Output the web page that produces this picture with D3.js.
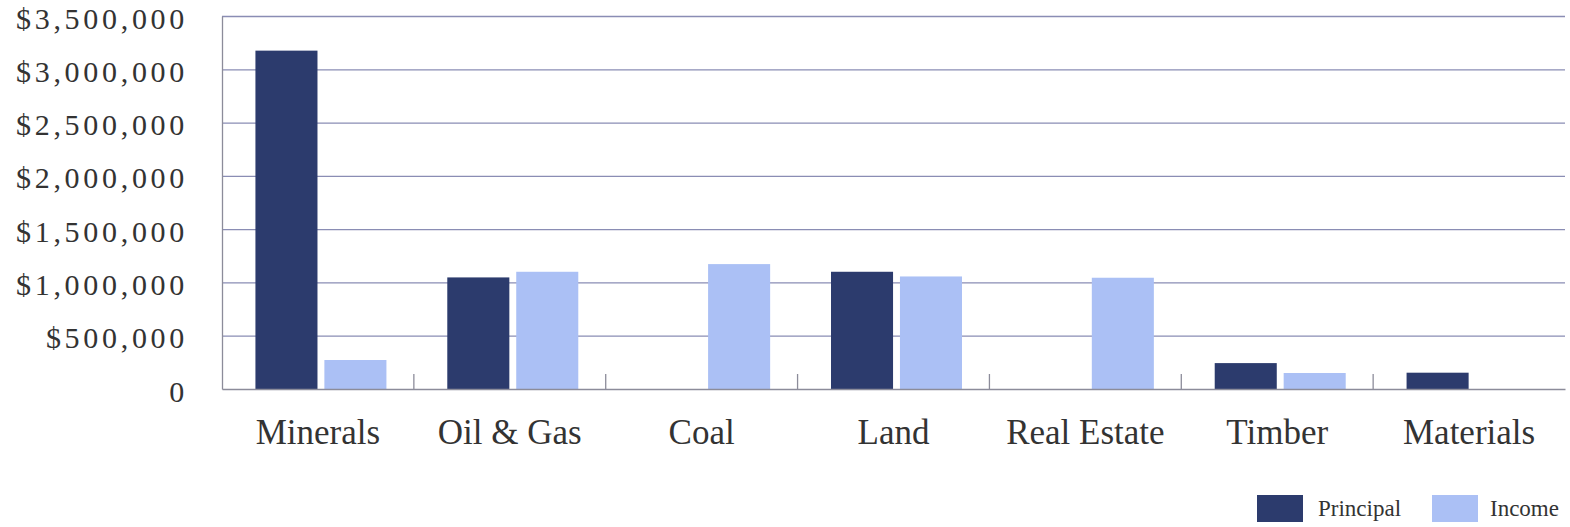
<!DOCTYPE html>
<html><head><meta charset="utf-8">
<script src="https://cdn.jsdelivr.net/npm/d3@7"></script>
<style>
body{margin:0;background:#fff;}
svg{display:block;}
text{font-family:"Liberation Serif","DejaVu Serif",serif;fill:#333;}
</style></head>
<body>
<svg id="c" width="1570" height="527"></svg>
<script>
const categories = ["Minerals","Oil & Gas","Coal","Land","Real Estate","Timber","Materials"];
const series = ["Principal","Income"];
const principal = [3175000,1047000,0,1100000,0,243000,153000];
const income = [272000,1100000,1172000,1056000,1044000,150000,0];
const yTicks = [0,500000,1000000,1500000,2000000,2500000,3000000,3500000];
const colors = ["#2c3b6d","#abc0f5"];

const svg = d3.select("#c");
const L = 222, R = 1565, T = 16, B = 389;
const x0 = d3.scaleBand().domain(categories).range([L,R]).padding(0);
const groupW = 131;
const x1 = d3.scaleBand().domain(series).range([0,groupW]).paddingInner(0.1);
const y = d3.scaleLinear().domain([0,3500000]).range([B,T]);
const color = d3.scaleOrdinal().domain(series).range(colors);

// gridlines
const grid = svg.append("g").attr("transform",`translate(${L},0)`)
  .call(d3.axisLeft(y).tickValues(yTicks.slice(1)).tickSize(-(R-L)).tickFormat(""));
grid.select(".domain").remove();
grid.selectAll("line").attr("stroke","#8a8db4").attr("stroke-width",1.3);

// y labels
const fmt = v => v===0 ? "0" : "$" + d3.format(",")(v);
const yax = svg.append("g").attr("transform",`translate(${L},0)`)
  .call(d3.axisLeft(y).tickValues(yTicks).tickSize(0).tickPadding(34).tickFormat(fmt));
yax.select(".domain").attr("stroke","#8c8c9a").attr("stroke-width",1.3);
yax.selectAll("text").style("font-size","30px").style("letter-spacing","3.7px")
  .attr("fill","#333").attr("dy","0.4em");

// bars
const data = categories.map((c,i)=>({cat:c, vals:[{s:"Principal",v:principal[i]},{s:"Income",v:income[i]}]}));
const g = svg.append("g");
const grp = g.selectAll("g").data(data).join("g")
  .attr("transform",d=>`translate(${x0(d.cat)+(x0.bandwidth()-groupW)/2+3},0)`);
grp.selectAll("rect").data(d=>d.vals.filter(e=>e.v>0)).join("rect")
  .attr("x",d=>x1(d.s)).attr("width",x1.bandwidth())
  .attr("y",d=>y(d.v)).attr("height",d=>B-y(d.v))
  .attr("fill",d=>color(d.s));

// x axis
const xax = svg.append("g").attr("transform",`translate(0,${B})`)
  .call(d3.axisBottom(x0).tickSize(0).tickPadding(30));
xax.select(".domain").attr("stroke","#8c8c9a").attr("stroke-width",1.3);
xax.selectAll("text").style("font-size","35px").attr("fill","#333").attr("dy","0.71em");
// separators
const seps = categories.slice(1).map(c=>x0(c));
svg.append("g").selectAll("line").data(seps).join("line")
  .attr("x1",d=>d).attr("x2",d=>d).attr("y1",B-15).attr("y2",B)
  .attr("stroke","#8c8c9a").attr("stroke-width",1.3);

// legend
const leg = svg.append("g").attr("transform","translate(1257,495)");
const lx = [0,175];
const tx = [61,58];
series.forEach((s,i)=>{
  const gg = leg.append("g").attr("transform",`translate(${lx[i]},0)`);
  gg.append("rect").attr("width",46).attr("height",27).attr("fill",color(s));
  gg.append("text").attr("x",tx[i]).attr("y",21).style("font-size","23px").text(s);
});
</script>
</body></html>
